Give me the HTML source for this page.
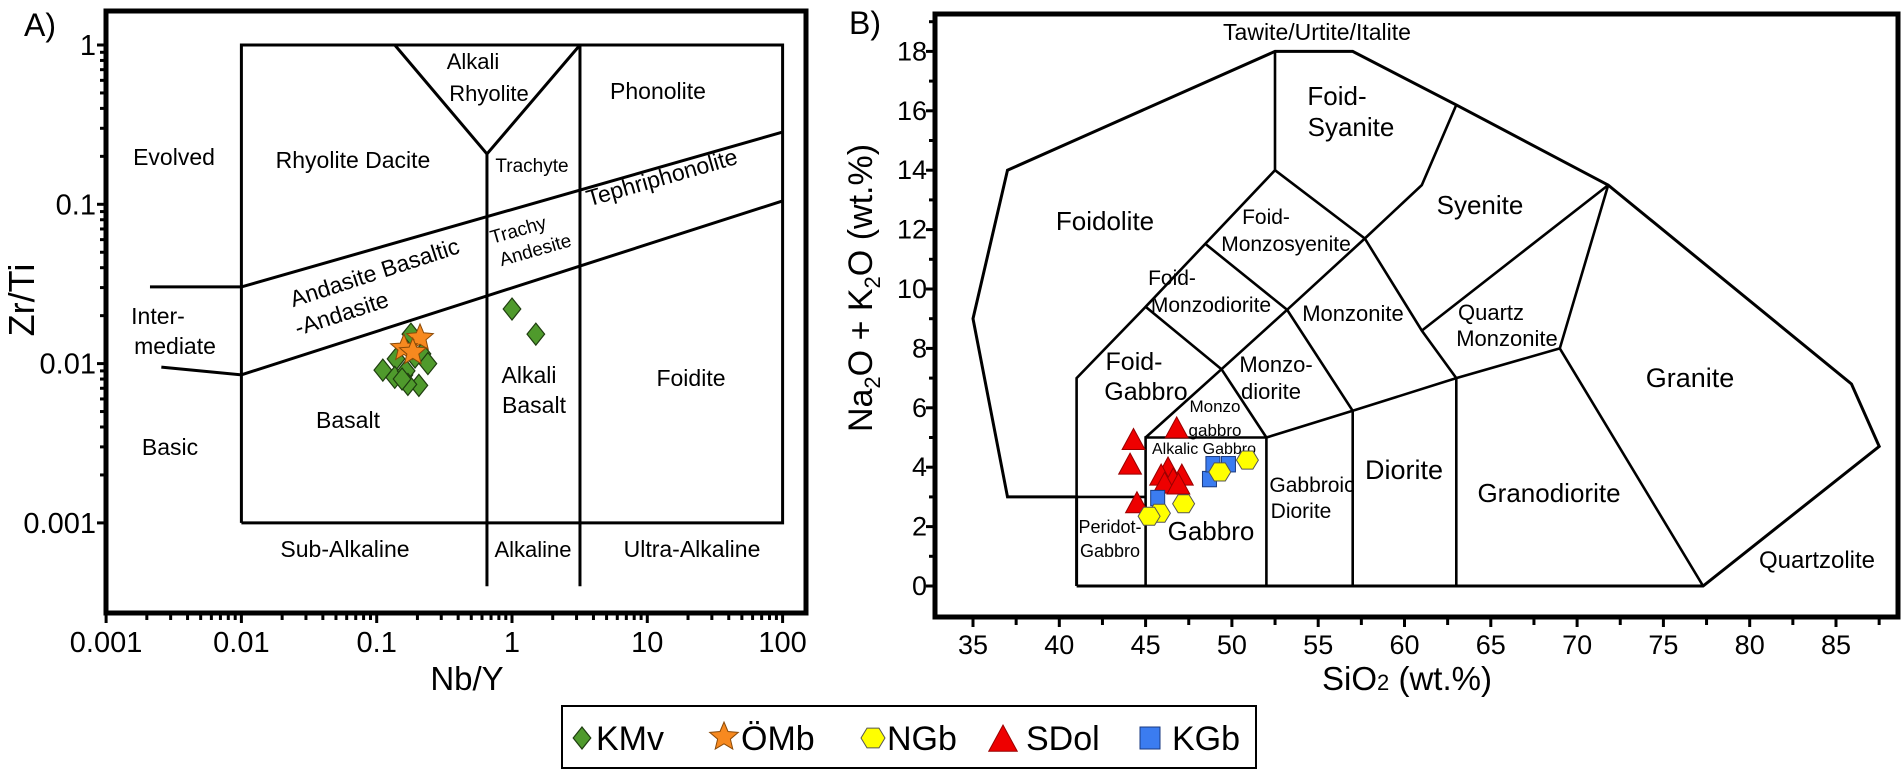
<!DOCTYPE html>
<html><head><meta charset="utf-8"><style>
html,body{margin:0;padding:0;background:#fff;}
svg{display:block;font-family:"Liberation Sans",Arial,sans-serif;}
</style></head><body>
<svg id="fig" width="1901" height="776" viewBox="0 0 1901 776" xmlns="http://www.w3.org/2000/svg">
<rect x="0" y="0" width="1901" height="776" fill="#fff"/>
<g id="pa"></g>
<g id="pb"></g>
<g id="legend"></g>
</svg>
<script>
// ---------- Panel A data (Nb/Y vs Zr/Ti) ----------
const kmvX = [1.0, 1.5, 0.111, 0.139, 0.159, 0.136, 0.165, 0.192, 0.216, 0.239, 0.205, 0.170, 0.179, 0.154];
const kmvY = [0.022, 0.0153, 0.0091, 0.0107, 0.0085, 0.0082, 0.0090, 0.0110, 0.0115, 0.0100, 0.0073, 0.0074, 0.0153, 0.0080];
const ombX = [0.209, 0.159, 0.185];
const ombY = [0.0145, 0.0125, 0.0118];
const aXTicks = [0.001, 0.01, 0.1, 1, 10, 100];
const aXTickLabels = ["0.001", "0.01", "0.1", "1", "10", "100"];
const aYTicks = [1, 0.1, 0.01, 0.001];
const aYTickLabels = ["1", "0.1", "0.01", "0.001"];
const aBox = [[0.01,0.001],[100,0.001],[100,1],[0.01,1],[0.01,0.001]];
const aVee = [[0.136,1],[0.653,0.207],[3.18,1]];
const aLine1 = [[0.653,0.0004],[0.653,0.207]];
const aLine2 = [[3.18,0.0004],[3.18,1]];
const aUpper = [[0.00211,0.0303],[0.01,0.0303],[100,0.284]];
const aLower = [[0.00256,0.0095],[0.01,0.0085],[100,0.105]];

// ---------- Panel B data (SiO2 vs Na2O+K2O) ----------
const sdolX = [44.3, 44.1, 46.8, 44.5, 46.3, 45.9, 47.1, 46.6, 46.1, 46.9];
const sdolY = [4.9, 4.07, 5.29, 2.77, 3.94, 3.7, 3.7, 3.57, 3.43, 3.4];
const kgbX = [45.7, 48.7, 48.9, 49.8];
const kgbY = [2.96, 3.6, 4.1, 4.1];
const ngbX = [45.8, 45.2, 47.2, 49.3, 50.9];
const ngbY = [2.45, 2.35, 2.77, 3.84, 4.24];
const bXTicks = [35,40,45,50,55,60,65,70,75,80,85];
const bYTicks = [0,2,4,6,8,10,12,14,16,18];
const bOuter = [[41,0],[41,3],[37,3],[35,9],[37,14],[52.5,18],[57,18],[63,16.2],[71.8,13.5],[85.9,6.8],[87.5,4.7],[77.3,0],[41,0]];
const bLines = [
 [[41,3],[45,3]],
 [[41,3],[41,7],[45,9.4],[52.5,14],[52.5,18]],
 [[52.5,14],[57.7,11.7],[61,8.6],[63,7]],
 [[57.7,11.7],[61,13.5],[63,16.2]],
 [[61,8.6],[71.8,13.5]],
 [[71.8,13.5],[69,8],[77.3,0]],
 [[52,5],[57,5.9],[63,7],[69,8]],
 [[45,0],[45,5],[52,5],[52,0]],
 [[57,0],[57,5.9]],
 [[63,0],[63,7]],
 [[45,5],[49.4,7.3],[53.2,9.3],[57.7,11.7]],
 [[45,9.4],[49.4,7.3],[52,5]],
 [[48.5,11.5],[53.2,9.3],[57,5.9]]
];

const NS = "http://www.w3.org/2000/svg";
function mk(tag, parent, attrs){ const e=document.createElementNS(NS,tag); for(const k in attrs) e.setAttribute(k,attrs[k]); parent.appendChild(e); return e; }
function txt(parent, x, y, s, size, anchor, extra){ const t=mk("text",parent,{x:x,y:y,"font-size":size,"text-anchor":anchor||"middle",fill:"#000"}); if(extra) for(const k in extra) t.setAttribute(k,extra[k]); t.textContent=s; return t; }

const ax = v => 512 + Math.log10(v)*135.3;
const ay = v => 45 - Math.log10(v)*159.3;
const bx = v => 973 + (v-35)*17.26;
const by = v => 586 - v*29.7;

// ===== Panel A =====
const pa = document.getElementById("pa");
let e = mk("rect",pa,{x:106,y:11,width:700,height:602,fill:"none",stroke:"#000","stroke-width":5});


function polyA(pts, name, w){ const p=mk("polyline",pa,{points:pts.map(q=>ax(q[0])+","+ay(q[1])).join(" "),fill:"none",stroke:"#000","stroke-width":w||3,"stroke-linejoin":"miter"});
 
  }
polyA(aBox,"field-box");
polyA(aVee,"alkali-rhyolite-boundary");
polyA(aLine1,"alkaline-boundary");
polyA(aLine2,"ultra-alkaline-boundary");
polyA(aUpper,"evolved-intermediate-boundary");
polyA(aLower,"intermediate-basic-boundary");
// ticks A
for(let d=-3; d<=2; d++){
 for(let m=1; m<=9; m++){
  const v=m*Math.pow(10,d); if(v>150) break;
  const X=ax(v); const L=(m===1)?10:7;
  const t=mk("line",pa,{x1:X,y1:613,x2:X,y2:613+L,stroke:"#000","stroke-width":3});
  
  
 }
}
for(let d=-3; d<=0; d++){
 for(let m=1; m<=9; m++){
  const v=m*Math.pow(10,d); if(v>1.3) break;
  const Y=ay(v); const L=(m===1)?9:6;
  const t=mk("line",pa,{x1:106-L,y1:Y,x2:106,y2:Y,stroke:"#000","stroke-width":3});
  
  
 }
}
aXTicks.forEach((v,i)=>{ const t=txt(pa,ax(v),652,aXTickLabels[i],29);
 
  });
aYTicks.forEach((v,i)=>{ const t=txt(pa,96,ay(v)+10,aYTickLabels[i],29,"end");
 
  });
e=txt(pa,467,690,"Nb/Y",33);  
e=txt(pa,0,0,"Zr/Ti",36,"middle",{transform:"translate(34,300) rotate(-90)"});  
e=txt(pa,40,36,"A)",32);  
const aLabels = [
 ["Alkali",473,69,22],["Rhyolite",489,101,22],["Phonolite",658,99,23],["Evolved",174,165,23],
 ["Rhyolite Dacite",353,168,23],["Trachyte",532,172,19],["Inter-",158,324,23],["mediate",175,354,23],
 ["Alkali",529,383,23],["Basalt",534,413,23],["Foidite",691,386,23],["Basalt",348,428,23],["Basic",170,455,23],
 ["Sub-Alkaline",345,557,23],["Alkaline",533,557,22],["Ultra-Alkaline",692,557,23]
];
aLabels.forEach(l=>{ const t=txt(pa,l[1],l[2],l[0],l[3]);
 
  });
const aRot = [["Tephriphonolite",664,185,-16,23],["Trachy",520,236,-16,19],["Andesite",537,256,-16,19],["Andasite Basaltic",377,280,-18,23],["-Andasite",344,321,-18,23]];
aRot.forEach(l=>{ const t=txt(pa,0,0,l[0],l[4],"middle",{transform:`translate(${l[1]},${l[2]}) rotate(${l[3]})`});
 
  });

function diamond(g,X,Y,s){ return mk("polygon",g,{points:`${X},${Y-s} ${X+s*0.8},${Y} ${X},${Y+s} ${X-s*0.8},${Y}`,fill:"#4f9a2c",stroke:"#1f3d10","stroke-width":1.2}); }
function star(g,X,Y,r){ let p=[]; for(let i=0;i<10;i++){const a=-Math.PI/2+i*Math.PI/5; const rr=i%2?r*0.45:r; p.push((X+rr*Math.cos(a)).toFixed(1)+","+(Y+rr*Math.sin(a)).toFixed(1));} return mk("polygon",g,{points:p.join(" "),fill:"#f7891f",stroke:"#8a4a08","stroke-width":1}); }
function hex(g,X,Y,r){ let p=[]; for(let i=0;i<6;i++){const a=i*Math.PI/3; p.push((X+r*Math.cos(a)).toFixed(1)+","+(Y+r*0.95*Math.sin(a)).toFixed(1));} return mk("polygon",g,{points:p.join(" "),fill:"#ffff00",stroke:"#555","stroke-width":1}); }
function tri(g,X,Y,s){ return mk("polygon",g,{points:`${X},${Y-s} ${X+s*0.95},${Y+s*0.75} ${X-s*0.95},${Y+s*0.75}`,fill:"#ee0000",stroke:"#900","stroke-width":1}); }
function sq(g,X,Y,s){ return mk("rect",g,{x:X-s,y:Y-s*1.1,width:2*s,height:2.2*s,fill:"#3b7cf0",stroke:"#1a3a80","stroke-width":1}); }

kmvX.forEach((v,i)=>{ const p=diamond(pa,ax(v),ay(kmvY[i]),11);
 
  });
ombX.forEach((v,i)=>{ const p=star(pa,ax(v),ay(ombY[i]),14);
 
  });

// ===== Panel B =====
const pb = document.getElementById("pb");
e = mk("rect",pb,{x:935,y:14,width:963,height:603,fill:"none",stroke:"#000","stroke-width":5});


function polyB(pts,name,w){ const p=mk("polyline",pb,{points:pts.map(q=>bx(q[0]).toFixed(1)+","+by(q[1]).toFixed(1)).join(" "),fill:"none",stroke:"#000","stroke-width":w||2.6,"stroke-linejoin":"miter"});
 
  }
polyB(bOuter,"tas-outer-boundary",3);
bLines.forEach(l=>polyB(l,"tas-field-boundary"));
for(let v=35; v<=87.5; v+=2.5){
 const major = v%5===0; const X=bx(v);
 const t=mk("line",pb,{x1:X,y1:617,x2:X,y2:617+(major?10:8),stroke:"#000","stroke-width":3});
 
 
}
for(let v=0; v<=19; v++){
 const Y=by(v);
 const t=mk("line",pb,{x1:935-(v%2===0?9:6),y1:Y,x2:935,y2:Y,stroke:"#000","stroke-width":3});
 
 
}
bXTicks.forEach(v=>{ const t=txt(pb,bx(v),654,String(v),27);
 
  });
bYTicks.forEach(v=>{ const t=txt(pb,927,by(v)+9,String(v),27,"end");
 
  });
e=mk("text",pb,{x:1407,y:690,"font-size":33,"text-anchor":"middle"}); e.innerHTML='SiO<tspan font-size="22">2</tspan> (wt.%)';
 
e=mk("text",pb,{x:0,y:0,"font-size":34,"text-anchor":"middle",transform:"translate(872,288) rotate(-90)"});
e.innerHTML='Na<tspan font-size="22" dy="8">2</tspan><tspan dy="-8">O + K</tspan><tspan font-size="22" dy="8">2</tspan><tspan dy="-8">O (wt.%)</tspan>';
 
e=txt(pb,865,34,"B)",32);  
const bLabels = [
 ["Tawite/Urtite/Italite",1317,40,23],["Foid-",1337,105,26],["Syanite",1351,136,26],["Foidolite",1105,230,26],
 ["Syenite",1480,214,26],["Foid-",1266,224,21],["Monzosyenite",1286,251,21],["Foid-",1172,285,21],["Monzodiorite",1211,312,21],
 ["Monzonite",1353,321,22],["Quartz",1491,320,22],["Monzonite",1507,346,22],["Granite",1690,387,27],
 ["Foid-",1134,370,25],["Gabbro",1146,400,25],["Monzo-",1276,372,22],["diorite",1271,399,22],
 ["Monzo",1215,412,17],["gabbro",1215,436,17],["Alkalic Gabbro",1204,454,16],
 ["Gabbroic",1312,492,21],["Diorite",1301,518,21],["Diorite",1404,479,27],["Granodiorite",1549,502,26],
 ["Peridot-",1110,533,18],["Gabbro",1110,557,18],["Gabbro",1211,540,26],["Quartzolite",1817,568,24]
];
bLabels.forEach(l=>{ const t=txt(pb,l[1],l[2],l[0],l[3]);
 
  });

sdolX.forEach((v,i)=>{ const p=tri(pb,bx(v),by(sdolY[i]),12);
 
  });
kgbX.forEach((v,i)=>{ const p=sq(pb,bx(v),by(kgbY[i]),7);
 
  });
ngbX.forEach((v,i)=>{ const p=hex(pb,bx(v),by(ngbY[i]),11);
 
  });

// ===== Legend =====
const lg = document.getElementById("legend");
e=mk("rect",lg,{x:562,y:706,width:694,height:62,fill:"#fff",stroke:"#000","stroke-width":2});
 
let m;
m=diamond(lg,582,738,11);  
e=txt(lg,596,750,"KMv",34,"start");  
m=star(lg,724,737,15);  
e=txt(lg,741,750,"ÖMb",34,"start");  
m=hex(lg,873,738,12);  
e=txt(lg,887,750,"NGb",34,"start");  
m=tri(lg,1003,740,15);  
e=txt(lg,1026,750,"SDol",34,"start");  
m=sq(lg,1150,738,10);  
e=txt(lg,1172,750,"KGb",34,"start");  
</script>
</body></html>
